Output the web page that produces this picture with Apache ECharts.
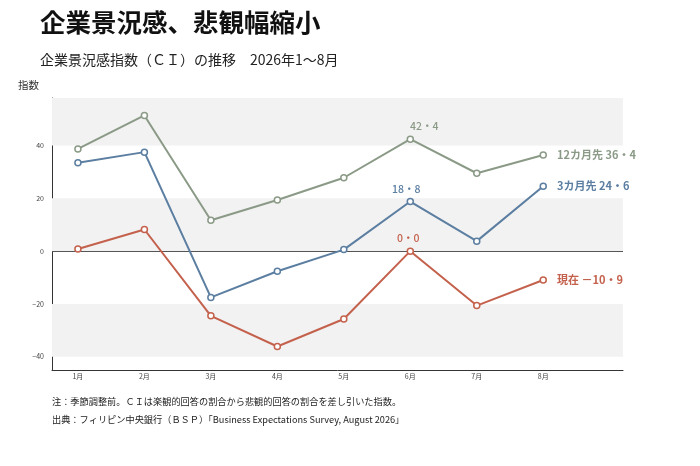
<!DOCTYPE html>
<html>
<head>
<meta charset="utf-8">
<script src="https://cdn.jsdelivr.net/npm/echarts@6/dist/echarts.min.js"></script>
<style>
html,body{margin:0;padding:0;background:#fff;}
#chart{width:700px;height:466px;}
</style>
</head>
<body>
<div id="chart"></div>
<script>
var months = ['1月', '2月', '3月', '4月', '5月', '6月', '7月', '8月'];
var ci12m = [38.7, 51.4, 11.7, 19.4, 27.8, 42.4, 29.5, 36.4];
var ci3m = [33.5, 37.5, -17.5, -7.6, 0.6, 18.8, 3.8, 24.6];
var ciNow = [0.8, 8.2, -24.5, -36.1, -25.7, 0.0, -20.6, -10.9];
var yTicks = [-40, -20, 0, 20, 40];
var grayBands = [[40, 58], [0, 20], [-40, -20]];
var FONT = '"Noto Sans CJK JP", "Noto Sans", sans-serif';

function fmt(v) {
	var s = Math.abs(v).toFixed(1).replace('.', '・');
	return v < 0 ? '－' + s : s;
}

// peakShift: nudge of the 6月 label so it clears the lines
function makeSeries(name, values, color, peakShift) {
	return {
		name : name,
		type : 'line',
		symbol : 'circle',
		symbolSize : 6,
		z : 5,
		lineStyle : { color : color, width : 2 },
		itemStyle : { color : '#fff', borderColor : color, borderWidth : 1.5 },
		data : values.map(function (v, i) {
			var item = { value : [i + 1, v] };
			if (i === 5) {
				item.label = {
					show : true, position : 'top', distance : 4, offset : [peakShift, 0],
					color : color, fontSize : 10.5, fontWeight : 500, fontFamily : FONT,
					formatter : function (p) { return fmt(p.value[1]); }
				};
			}
			if (i === values.length - 1) {
				item.label = {
					show : true, position : 'right', distance : 10,
					color : color, fontSize : 11, fontWeight : 'bold', fontFamily : FONT,
					formatter : function (p) { return name + ' ' + fmt(p.value[1]); }
				};
			}
			return item;
		})
	};
}

var myChart = echarts.init(document.getElementById('chart'));
var series = [
	makeSeries('12カ月先', ci12m, '#8b9a87', 14),
	makeSeries('3カ月先', ci3m, '#5b7ea1', -4),
	makeSeries('現在', ciNow, '#c4614c', -2)
];
series[0].markArea = {
	silent : true,
	itemStyle : { color : '#f2f2f2' },
	data : grayBands.map(function (b) { return [ { yAxis : b[0] }, { yAxis : b[1] } ]; })
};
series[0].markLine = {
	silent : true,
	symbol : 'none',
	label : { show : false },
	lineStyle : { color : '#555', width : 1.2, type : 'solid' },
	data : [ { yAxis : 0 } ]
};

option = {
	backgroundColor : '#fff',
	animation : false,
	textStyle : { fontFamily : FONT },
	title : [ {
		text : '企業景況感、悲観幅縮小',
		left : 40, top : 10, padding : 0,
		textStyle : { fontSize : 25.5, fontWeight : 'bold', color : '#111', fontFamily : FONT }
	}, {
		text : '企業景況感指数（ＣＩ）の推移　2026年1〜8月',
		left : 40, top : 53, padding : 0,
		textStyle : { fontSize : 14, fontWeight : 'normal', color : '#222', fontFamily : FONT }
	}, {
		text : '指数',
		left : 18, top : 80, padding : 0,
		textStyle : { fontSize : 10.5, fontWeight : 'normal', color : '#333', fontFamily : FONT }
	}, {
		text : '注：季節調整前。ＣＩは楽観的回答の割合から悲観的回答の割合を差し引いた指数。',
		left : 52, top : 397, padding : 0,
		textStyle : { fontSize : 9.2, fontWeight : 'normal', color : '#222', fontFamily : FONT }
	}, {
		text : '出典：フィリピン中央銀行（ＢＳＰ）「Business Expectations Survey, August 2026」',
		left : 52, top : 415, padding : 0,
		textStyle : { fontSize : 9.2, fontWeight : 'normal', color : '#222', fontFamily : FONT }
	} ],
	grid : { left : 52, right : 77, top : 98, bottom : 96 },
	xAxis : {
		type : 'value',
		min : 0.61,
		max : 9.2,
		axisLine : { show : true, onZero : false, lineStyle : { color : '#333', width : 1 } },
		axisTick : { show : false },
		splitLine : { show : false },
		axisLabel : {
			customValues : months.map(function (m, i) { return i + 1; }),
			formatter : function (v) { return months[Math.round(v) - 1]; },
			fontSize : 7, color : '#444', margin : 3
		}
	},
	yAxis : {
		type : 'value',
		min : -45,
		max : 58,
		axisLine : { show : true, onZero : false, lineStyle : { color : '#333', width : 1 } },
		axisTick : { show : false },
		splitLine : { show : false },
		axisLabel : {
			customValues : yTicks,
			formatter : function (v) { return v < 0 ? '−' + Math.abs(v) : String(v); },
			fontSize : 7, color : '#444', margin : 8
		}
	},
	series : series
};
myChart.setOption(option);
</script>
</body>
</html>
